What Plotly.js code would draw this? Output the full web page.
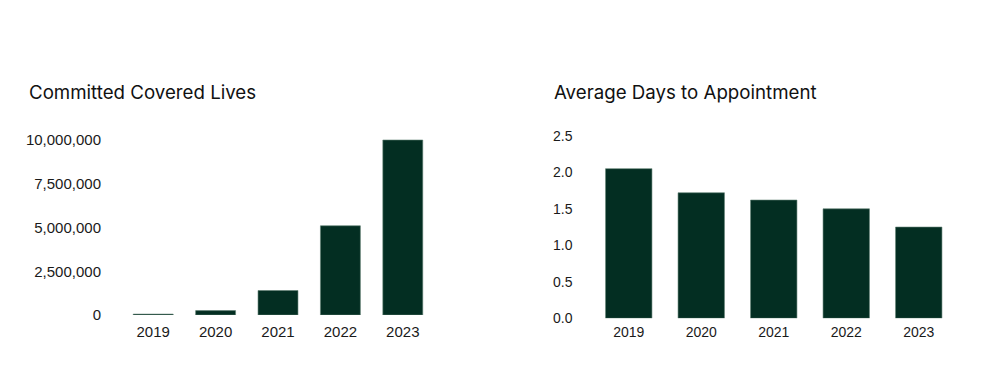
<!DOCTYPE html>
<html>
<head>
<meta charset="utf-8">
<script src="https://cdn.plot.ly/plotly-3.0.1.min.js"></script>
<style>html,body{margin:0;padding:0;background:#fff;}#chart{width:999px;height:369px;}</style>
</head>
<body>
<div id="chart"></div>
<script>
const years = ['2019', '2020', '2021', '2022', '2023'];
const coveredLives = [50000, 250000, 1400000, 5100000, 10000000];
const avgDays = [2.05, 1.72, 1.62, 1.50, 1.25];
const livesTicks = [0, 2500000, 5000000, 7500000, 10000000];
const livesTickText = ['0', '2,500,000', '5,000,000', '7,500,000', '10,000,000'];
const daysTicks = [0, 0.5, 1.0, 1.5, 2.0, 2.5];
const daysTickText = ['0.0', '0.5', '1.0', '1.5', '2.0', '2.5'];
const titles = ['Committed Covered Lives', 'Average Days to Appointment'];

const barColor = '#032e22';
const W = 999, H = 369;
const px = v => v / W;
const py = v => (H - v) / H;

const traces = [
  {type: 'bar', x: years, y: coveredLives, xaxis: 'x', yaxis: 'y',
   marker: {color: barColor, line: {color: '#5f7f72', width: 0.6}}, hoverinfo: 'x+y'},
  {type: 'bar', x: years, y: avgDays, xaxis: 'x2', yaxis: 'y2',
   marker: {color: barColor, line: {color: '#5f7f72', width: 0.6}}, hoverinfo: 'x+y'}
];

const tickFontL = {family: 'Liberation Sans, Arial, sans-serif', size: 15, color: '#1a1a1a'};
const tickFontR = {family: 'Liberation Sans, Arial, sans-serif', size: 14, color: '#1a1a1a'};

const layout = {
  width: W, height: H,
  margin: {l: 0, r: 0, t: 0, b: 0},
  paper_bgcolor: '#ffffff', plot_bgcolor: '#ffffff',
  showlegend: false,
  bargap: 0.36,
  xaxis: {domain: [px(122), px(434)], anchor: 'y', type: 'category', range: [-0.5, 4.5],
          showgrid: false, zeroline: false, showline: false, ticks: '', tickfont: tickFontL, ticklabelstandoff: 6},
  yaxis: {domain: [py(315), py(131.25)], anchor: 'x', range: [0, 10500000],
          tickvals: livesTicks, ticktext: livesTickText,
          showgrid: false, zeroline: false, showline: false, ticks: '', tickfont: tickFontL, ticklabelstandoff: 20},
  xaxis2: {domain: [px(592.5), px(955)], anchor: 'y2', type: 'category', range: [-0.5, 4.5],
           showgrid: false, zeroline: false, showline: false, ticks: '', tickfont: tickFontR, ticklabelstandoff: 4},
  yaxis2: {domain: [py(318.3), py(128.5)], anchor: 'x2', range: [0, 2.6],
           tickvals: daysTicks, ticktext: daysTickText,
           showgrid: false, zeroline: false, showline: false, ticks: '', tickfont: tickFontR, ticklabelstandoff: 19},
  annotations: [
    {text: titles[0], xref: 'paper', yref: 'paper', x: px(26.5), y: py(92), xanchor: 'left', yanchor: 'middle',
     showarrow: false, font: {family: 'Inter, sans-serif', size: 18.7, color: '#111111'}},
    {text: titles[1], xref: 'paper', yref: 'paper', x: px(551.5), y: py(92), xanchor: 'left', yanchor: 'middle',
     showarrow: false, font: {family: 'Inter, sans-serif', size: 18.7, color: '#111111'}}
  ]
};

Plotly.newPlot('chart', traces, layout, {displayModeBar: false, staticPlot: true});
</script>
</body>
</html>
